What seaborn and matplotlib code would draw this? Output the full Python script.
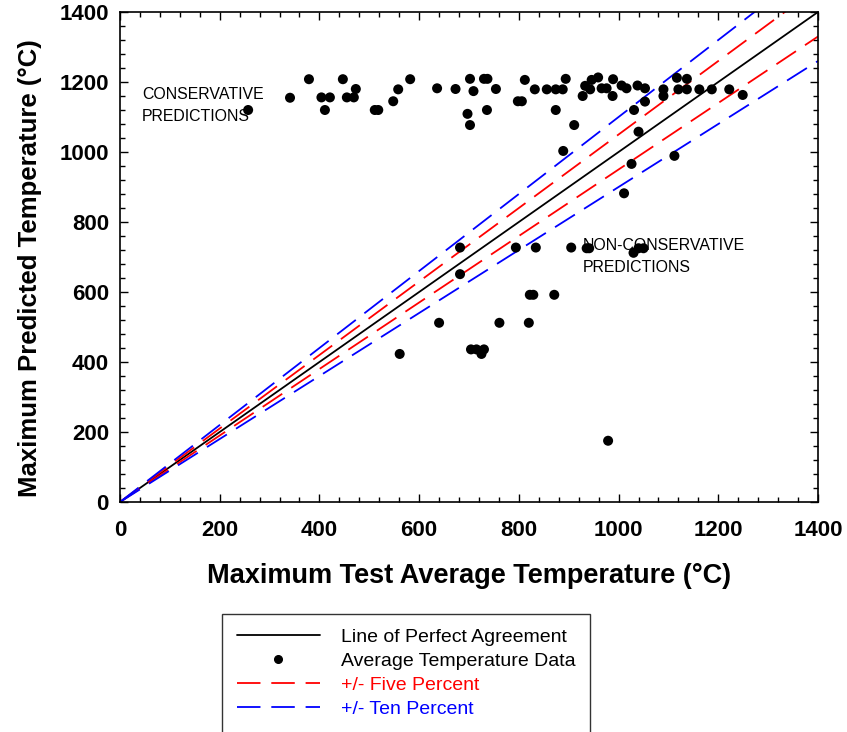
import numpy as np
import pandas as pd
import matplotlib
matplotlib.use("Agg")
import matplotlib.pyplot as plt
from matplotlib.lines import Line2D
from matplotlib.ticker import MultipleLocator
import seaborn as sns

test_temp = [257, 341, 379, 404, 421, 411, 447, 473, 455, 469, 511, 518, 548, 558, 582,
             636, 673, 702, 709, 697, 702, 730, 737, 754, 736, 798, 806, 812, 832, 856,
             874, 888, 894, 874, 911, 928, 933, 946, 959, 943, 966, 976, 989, 988, 1006,
             1016, 1038, 1053, 1053, 1031, 1040, 1090, 1090, 1117, 1137, 1120, 1137, 1162,
             1187, 1222, 1249,
             889, 1026, 1112, 1011,
             682, 794, 834, 905, 936, 941, 1030, 1040, 1050, 682,
             822, 829, 871, 640, 761, 820, 561, 704, 715, 730, 725, 979]
pred_temp = [1120, 1155, 1208, 1156, 1156, 1120, 1208, 1180, 1156, 1156, 1120, 1120, 1145, 1179, 1208,
             1182, 1180, 1209, 1174, 1109, 1077, 1209, 1209, 1180, 1120, 1145, 1145, 1206, 1179, 1179,
             1179, 1179, 1209, 1120, 1077, 1160, 1189, 1206, 1213, 1179, 1182, 1182, 1208, 1160, 1190,
             1182, 1190, 1182, 1144, 1120, 1058, 1179, 1160, 1212, 1209, 1179, 1179, 1179,
             1179, 1179, 1163,
             1003, 966, 989, 882,
             727, 727, 727, 727, 725, 725, 712, 725, 725, 651,
             592, 592, 592, 512, 512, 512, 423, 436, 436, 436, 423, 175]

line_x = [0, 1400]
five_pct = [1.05, 0.95]
ten_pct = [1.10, 0.90]

df = pd.DataFrame({"test": test_temp, "pred": pred_temp})

sns.set_style("ticks")
plt.rcParams['font.family'] = ['Liberation Sans', 'DejaVu Sans']
plt.rcParams.update({"text.color": "black", "axes.labelcolor": "black",
                     "xtick.color": "black", "ytick.color": "black"})

fig = plt.figure(figsize=(8.47, 7.32), dpi=100)
ax = fig.add_axes([120 / 847, 1 - 502 / 732, 698 / 847, 490 / 732])

lw = 1.3
dash = (13, 6)
sns.lineplot(x=line_x, y=line_x, color="black", lw=lw, ax=ax)
for f in five_pct:
    sns.lineplot(x=line_x, y=[v * f for v in line_x], color="red", lw=lw, ax=ax).lines[-1].set_dashes(dash)
for f in ten_pct:
    sns.lineplot(x=line_x, y=[v * f for v in line_x], color="blue", lw=lw, ax=ax).lines[-1].set_dashes(dash)

sns.scatterplot(data=df, x="test", y="pred", color="black", s=52, edgecolor="none", ax=ax, zorder=3)

ax.set_xlim(0, 1400)
ax.set_ylim(0, 1400)
ax.xaxis.set_major_locator(MultipleLocator(200))
ax.yaxis.set_major_locator(MultipleLocator(200))
ax.xaxis.set_minor_locator(MultipleLocator(40))
ax.yaxis.set_minor_locator(MultipleLocator(40))
ax.tick_params(which="both", direction="in", top=True, right=True, width=1, color="black")
ax.tick_params(which="major", length=6, labelsize=16)
ax.tick_params(axis="x", which="major", pad=13)
ax.tick_params(axis="y", which="major", pad=8)
ax.tick_params(which="minor", length=3.5)
for lab in ax.get_xticklabels() + ax.get_yticklabels():
    lab.set_fontweight("bold")
for sp in ax.spines.values():
    sp.set_linewidth(1.2)
    sp.set_color("black")

ax.set_xlabel("Maximum Test Average Temperature (°C)", fontsize=19.5, fontweight="bold", labelpad=16)
ax.set_ylabel("Maximum Predicted Temperature (°C)", fontsize=18.5, fontweight="bold")
ax.yaxis.set_label_coords(-0.112, 0.478)

ax.text(44, 1133, "CONSERVATIVE\nPREDICTIONS", fontsize=11.4, va="center", ha="left", linespacing=1.6)
ax.text(928, 702, "NON-CONSERVATIVE\nPREDICTIONS", fontsize=11.4, va="center", ha="left", linespacing=1.6)

handles = [
    Line2D([], [], color="black", lw=lw),
    Line2D([], [], color="black", marker="o", ls="none", markersize=5.5),
    Line2D([], [], color="red", lw=lw, dashes=dash),
    Line2D([], [], color="blue", lw=lw, dashes=dash),
]
labels = ["Line of Perfect Agreement", "Average Temperature Data", "+/- Five Percent", "+/- Ten Percent"]
leg = fig.legend(handles, labels, loc="upper left", bbox_to_anchor=(222 / 847, 1 - 614 / 732),
                 frameon=True, fancybox=False, edgecolor="black", fontsize=14,
                 handlelength=4.3, handletextpad=1.07, labelspacing=0.33, borderpad=0.75,
                 borderaxespad=0)
leg.get_frame().set_linewidth(1.0)
for t, c in zip(leg.get_texts(), ["black", "black", "red", "blue"]):
    t.set_color(c)

fig.savefig("out.png", dpi=100)
